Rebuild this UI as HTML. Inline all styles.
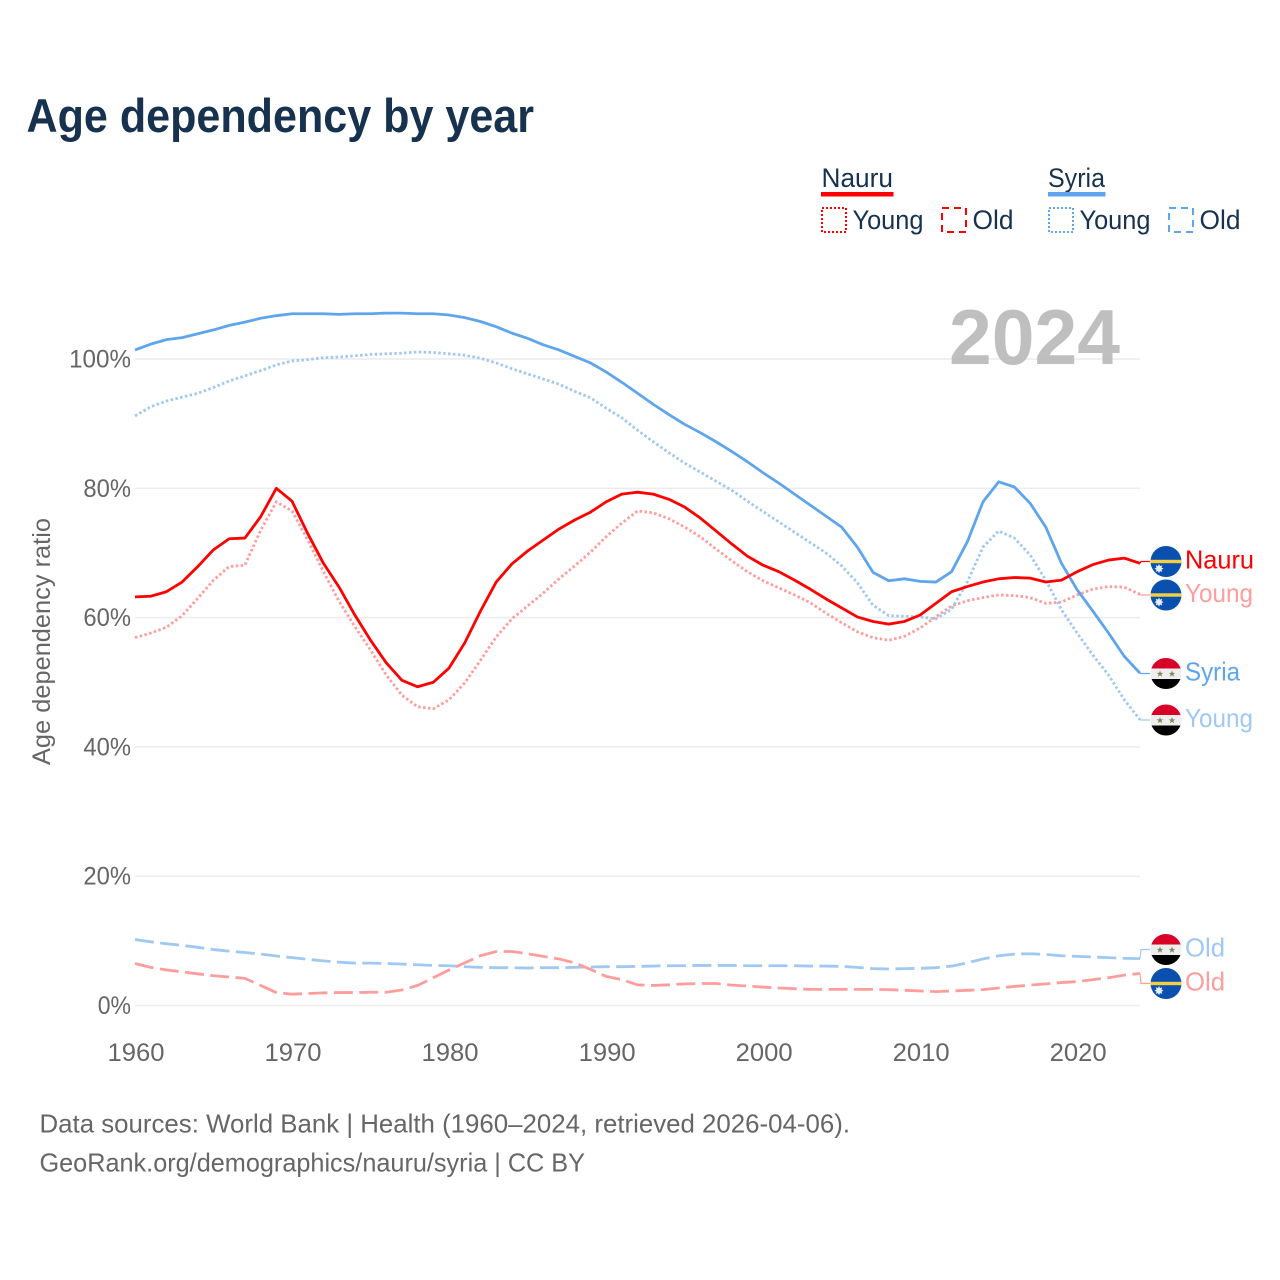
<!DOCTYPE html>
<html lang="en">
<head>
<meta charset="utf-8">
<title>Age dependency by year</title>
<style>
html,body{margin:0;padding:0;background:#fff;}
svg{display:block;font-family:"Liberation Sans",sans-serif;}
</style>
</head>
<body>
<svg id="chart" xmlns="http://www.w3.org/2000/svg" width="1280" height="1280" viewBox="0 0 1280 1280">
  <defs>
    <clipPath id="flag-clip"><circle cx="0" cy="0" r="15.5"/></clipPath>
    <g id="nauru-flag" clip-path="url(#flag-clip)">
      <rect x="-16" y="-16" width="32" height="32" fill="#0a50ae"/>
      <rect x="-16" y="-1.7" width="32" height="3.4" fill="#f4cf45"/>
      <polygon points="-7,2.4 -6,4.6 -3.700,3.800 -4.500,6.100 -2.400,7.100 -4.500,8.100 -3.700,10.400 -6,9.600 -7,11.800 -8,9.600 -10.300,10.400 -9.500,8.100 -11.600,7.100 -9.500,6.100 -10.300,3.800 -8,4.600" fill="#e8eef8"/>
    </g>
    <g id="syria-flag" clip-path="url(#flag-clip)">
      <rect x="-16" y="-16" width="32" height="11" fill="#d80027"/>
      <rect x="-16" y="-5" width="32" height="10.5" fill="#eeeeee"/>
      <rect x="-16" y="5.5" width="32" height="11" fill="#000"/>
      <polygon points="-6,-3 -5.1,-0.6 -2.7,-0.6 -4.6,0.9 -3.9,3.2 -6,1.8 -8.1,3.2 -7.4,0.9 -9.3,-0.6 -6.9,-0.6" fill="#7d8a5a"/>
      <polygon points="6,-3 6.9,-0.6 9.3,-0.6 7.4,0.9 8.1,3.2 6,1.8 3.9,3.2 4.6,0.9 2.7,-0.6 5.1,-0.6" fill="#7d8a5a"/>
    </g>
  </defs>

  <text x="26.500" y="132" font-size="47" font-weight="700" fill="#17324f" textLength="507.500" lengthAdjust="spacingAndGlyphs">Age dependency by year</text>

  <g font-size="27" fill="#17324f">
    <text x="821.500" y="187" textLength="71.500" lengthAdjust="spacingAndGlyphs">Nauru</text>
    <rect x="821" y="192" width="72.500" height="4.500" fill="#ff0000"/>
    <rect x="822" y="208" width="24" height="24" fill="none" stroke="#ff0000" stroke-width="2" stroke-dasharray="2 2"/>
    <text x="852.500" y="229" textLength="71" lengthAdjust="spacingAndGlyphs">Young</text>
    <rect x="942" y="208" width="24" height="24" fill="none" stroke="#ff0000" stroke-width="2" stroke-dasharray="7 5"/>
    <text x="972.500" y="229" textLength="41" lengthAdjust="spacingAndGlyphs">Old</text>

    <text x="1048" y="187" textLength="57" lengthAdjust="spacingAndGlyphs">Syria</text>
    <rect x="1048" y="192" width="57.500" height="4.500" fill="#5fa5ee"/>
    <rect x="1049" y="208" width="24" height="24" fill="none" stroke="#5fa5ee" stroke-width="2" stroke-dasharray="2 2"/>
    <text x="1079.500" y="229" textLength="71" lengthAdjust="spacingAndGlyphs">Young</text>
    <rect x="1169" y="208" width="24" height="24" fill="none" stroke="#5fa5ee" stroke-width="2" stroke-dasharray="7 5"/>
    <text x="1199.500" y="229" textLength="41" lengthAdjust="spacingAndGlyphs">Old</text>
  </g>

  <text transform="translate(50,641.500) rotate(-90)" text-anchor="middle" font-size="25" fill="#666666" textLength="247" lengthAdjust="spacingAndGlyphs">Age dependency ratio</text>

  <g id="grid"></g>
  <g id="y-ticks"></g>
  <g id="x-ticks"></g>
  <g id="series"></g>

  <text x="949" y="364" font-size="78" font-weight="700" fill="#b6b6b6" fill-opacity="0.88" textLength="171" lengthAdjust="spacingAndGlyphs">2024</text>

  <g id="end-labels"></g>

  <g font-size="26" fill="#666666">
    <text x="39.500" y="1132.500" textLength="810.500" lengthAdjust="spacingAndGlyphs">Data sources: World Bank | Health (1960–2024, retrieved 2026-04-06).</text>
    <text x="39.500" y="1171.500" textLength="545.500" lengthAdjust="spacingAndGlyphs">GeoRank.org/demographics/nauru/syria | CC BY</text>
  </g>
</svg>

<script>
const startYear = 1960;
const xTickYears = [1960, 1970, 1980, 1990, 2000, 2010, 2020];
const yTickValues = [0, 20, 40, 60, 80, 100];

const syriaTotal = [101.4,102.3,103.0,103.3,103.9,104.5,105.2,105.7,106.3,106.7,107.0,107.0,107.0,106.9,107.0,107.0,107.1,107.1,107.0,107.0,106.8,106.4,105.8,105.0,104.0,103.2,102.2,101.4,100.4,99.4,98.0,96.4,94.7,93.0,91.4,89.9,88.6,87.2,85.7,84.1,82.4,80.8,79.1,77.4,75.7,74.0,70.9,67.0,65.7,66.0,65.6,65.5,67.1,71.7,77.9,81.0,80.2,77.7,74.0,68.4,64.3,61.0,57.6,54.0,51.4];
const syriaYoung = [91.2,92.6,93.5,94.1,94.7,95.6,96.6,97.4,98.2,99.1,99.7,99.9,100.2,100.3,100.5,100.7,100.8,100.9,101.1,101.0,100.8,100.6,100.1,99.4,98.5,97.7,96.9,96.1,95.0,94.0,92.4,90.9,89.0,87.2,85.5,83.9,82.5,81.1,79.7,78.0,76.4,74.8,73.2,71.6,70.0,68.0,65.4,61.9,60.3,60.2,60.1,59.8,61.3,65.5,70.9,73.4,72.3,69.7,65.8,61.2,57.6,54.2,51.1,47.3,44.2];
const syriaOld = [10.2,9.85,9.55,9.3,9.0,8.65,8.4,8.2,7.95,7.65,7.4,7.15,6.9,6.7,6.55,6.55,6.5,6.4,6.3,6.2,6.15,6.0,5.9,5.85,5.85,5.8,5.85,5.85,5.9,5.95,6.0,6.0,6.05,6.1,6.15,6.15,6.2,6.2,6.2,6.15,6.15,6.15,6.15,6.1,6.1,6.05,5.9,5.7,5.65,5.7,5.75,5.85,6.1,6.6,7.2,7.7,7.95,8.0,7.9,7.7,7.6,7.5,7.4,7.3,7.25];
const nauruTotal = [63.2,63.3,64.0,65.5,67.9,70.5,72.2,72.3,75.6,80.0,78.0,73.0,68.4,64.7,60.4,56.5,53.0,50.3,49.3,50.0,52.2,56.1,61.0,65.5,68.3,70.3,72.0,73.7,75.1,76.3,77.9,79.1,79.4,79.1,78.3,77.1,75.4,73.4,71.4,69.5,68.1,67.1,65.8,64.4,62.9,61.5,60.1,59.4,59.0,59.4,60.4,62.2,64.0,64.8,65.5,66.0,66.2,66.1,65.5,65.8,67.1,68.2,68.9,69.2,68.4];
const nauruYoung = [56.9,57.6,58.5,60.3,63.0,65.8,67.9,68.1,73.5,77.9,76.5,72.0,67.1,62.5,58.6,55.0,51.1,48.0,46.2,45.9,47.3,49.9,53.4,57.0,59.8,61.8,63.8,66.0,68.0,70.1,72.5,74.6,76.5,76.2,75.3,74.0,72.5,70.6,68.8,67.1,65.7,64.6,63.5,62.3,60.7,59.2,57.8,56.9,56.5,57.1,58.4,60.1,61.8,62.6,63.1,63.5,63.4,63.1,62.2,62.4,63.5,64.4,64.8,64.7,63.6];
const nauruOld = [6.5,5.9,5.5,5.2,4.9,4.6,4.4,4.2,3.1,2.0,1.75,1.85,1.95,2.0,2.0,2.05,2.05,2.4,3.1,4.3,5.5,6.6,7.7,8.35,8.35,8.0,7.6,7.2,6.6,5.6,4.5,4.0,3.2,3.1,3.2,3.35,3.4,3.4,3.15,3.0,2.85,2.7,2.6,2.5,2.5,2.5,2.5,2.5,2.45,2.35,2.25,2.15,2.25,2.35,2.45,2.7,2.95,3.15,3.35,3.55,3.7,4.0,4.3,4.7,4.95];

const NS = 'http://www.w3.org/2000/svg';
function xScale(year) { return 135 + (year - 1960) * 15.703; }
function yScale(value) { return 1005.5 - value * 6.465; }
function make(tag, attrs, parent) {
  const el = document.createElementNS(NS, tag);
  for (const k in attrs) el.setAttribute(k, attrs[k]);
  parent.appendChild(el);
  return el;
}
function linePath(values) {
  return values.map(function (v, i) {
    return (i ? 'L' : 'M') + xScale(startYear + i).toFixed(2) + ' ' + yScale(v).toFixed(2);
  }).join('');
}

const grid = document.getElementById('grid');
const yTicks = document.getElementById('y-ticks');
yTickValues.forEach(function (v) {
  const line = make('line', { x1: 135, x2: 1140, y1: yScale(v), y2: yScale(v), stroke: '#ececec', 'stroke-width': 1.5 }, grid);
  
  
  const label = String(v) + '%';
  const t = make('text', { x: 131, y: yScale(v) + 8.5, 'text-anchor': 'end', 'font-size': 25, fill: '#666666', textLength: (label.length - 1) * 14.3 + 19, lengthAdjust: 'spacingAndGlyphs' }, yTicks);
  t.textContent = label;
  
  
});

const xTicks = document.getElementById('x-ticks');
xTickYears.forEach(function (yr) {
  const t = make('text', { x: xScale(yr) + 1, y: 1061, 'text-anchor': 'middle', 'font-size': 25, fill: '#666666', textLength: 57, lengthAdjust: 'spacingAndGlyphs' }, xTicks);
  t.textContent = String(yr);
  
  
});

const seriesGroup = document.getElementById('series');
const dotted = '2.5 2.4';
const dashed = '19 6.4';

const pNauruYoung = make('path', { d: linePath(nauruYoung), fill: 'none', stroke: '#ff9d9d', 'stroke-width': 2.8, 'stroke-dasharray': dotted }, seriesGroup);


const pSyriaYoung = make('path', { d: linePath(syriaYoung), fill: 'none', stroke: '#9fc8f3', 'stroke-width': 2.8, 'stroke-dasharray': dotted }, seriesGroup);


const pSyriaOld = make('path', { d: linePath(syriaOld), fill: 'none', stroke: '#9fc8f3', 'stroke-width': 2.8, 'stroke-dasharray': dashed }, seriesGroup);


const pNauruOld = make('path', { d: linePath(nauruOld), fill: 'none', stroke: '#ff9d9d', 'stroke-width': 2.8, 'stroke-dasharray': dashed }, seriesGroup);


const pSyriaTotal = make('path', { d: linePath(syriaTotal), fill: 'none', stroke: '#5fa5ee', 'stroke-width': 2.8, 'stroke-linejoin': 'round' }, seriesGroup);


const pNauruTotal = make('path', { d: linePath(nauruTotal), fill: 'none', stroke: '#ff0000', 'stroke-width': 2.8, 'stroke-linejoin': 'round' }, seriesGroup);



const endGroup = document.getElementById('end-labels');
function addEnd(values, labelY, flagId, text, colour, width) {
  const endX = xScale(startYear + values.length - 1);
  const endY = yScale(values[values.length - 1]);
  const conn = make('polyline', { points: endX + ',' + endY + ' ' + (endX + 1) + ',' + labelY + ' ' + (endX + 10) + ',' + labelY, fill: 'none', stroke: colour, 'stroke-width': 1.2 }, endGroup);
  
  
  const flag = make('use', { href: '#' + flagId, x: 1166, y: labelY }, endGroup);
  
  
  const lab = make('text', { x: 1185, y: labelY + 7, 'font-size': 26, fill: colour, textLength: width, lengthAdjust: 'spacingAndGlyphs' }, endGroup);
  lab.textContent = text;
  
  
}
addEnd(nauruTotal, 561.5, 'nauru-flag', 'Nauru', '#ff0000', 69);
addEnd(nauruYoung, 595, 'nauru-flag', 'Young', '#ff9d9d', 68);
addEnd(syriaTotal, 673.5, 'syria-flag', 'Syria', '#5fa5ee', 55);
addEnd(syriaYoung, 720, 'syria-flag', 'Young', '#9fc8f3', 68);
addEnd(syriaOld, 949.5, 'syria-flag', 'Old', '#9fc8f3', 40);
addEnd(nauruOld, 983.5, 'nauru-flag', 'Old', '#ff9d9d', 40);
</script>
</body>
</html>
